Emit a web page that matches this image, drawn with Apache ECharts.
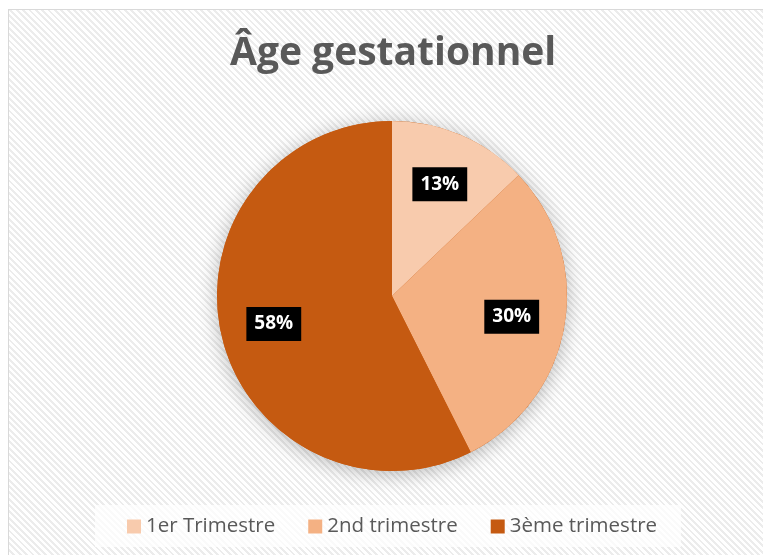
<!DOCTYPE html>
<html>
<head>
<meta charset="utf-8">
<script src="https://cdn.jsdelivr.net/npm/echarts@6/dist/echarts.min.js"></script>
<style>
html,body{margin:0;padding:0;background:#fff;}
#frame{position:absolute;left:8px;top:9px;width:780px;height:570px;border:1px solid #d9d9d9;
background:repeating-linear-gradient(45deg,#ffffff 0px,#ffffff 2.5px,#ececec 2.5px,#ececec 4.5px);}
#chart{position:absolute;left:0;top:0;width:763px;height:555px;}
</style>
</head>
<body>
<div id="frame"></div>
<div id="chart"></div>
<script>
const titleText = 'Âge gestationnel';
const categories = ['1er Trimestre', '2nd trimestre', '3ème trimestre'];
const values = [13, 30, 58];
const colors = ['#F8CBAD', '#F4B183', '#C55A11'];

const chart = echarts.init(document.getElementById('chart'), null, {renderer: 'canvas'});
const data = categories.map((c, i) => ({name: c, value: values[i], itemStyle: {color: colors[i]}}));
const labelData = categories.map((c, i) => ({name: c, value: values[i]}));
const total = values.reduce((a, b) => a + b, 0);

chart.setOption({
  backgroundColor: 'transparent',
  animation: false,
  title: {
    text: titleText,
    left: 225,
    top: 29,
    textStyle: {fontFamily: 'Open Sans', fontWeight: 'bold', fontSize: 39, color: '#595959'}
  },
  legend: {
    bottom: 8,
    left: 95,
    itemWidth: 14,
    itemHeight: 14,
    itemGap: 33,
    icon: 'rect',
    padding: [11, 24, 10, 32],
    backgroundColor: 'rgba(255,255,255,0.75)',
    textStyle: {fontFamily: 'Open Sans', fontSize: 20.5, color: '#595959'},
    data: categories
  },
  series: [
    {
      type: 'pie',
      center: [392, 296],
      radius: [0, 175],
      silent: true,
      legendHoverLink: false,
      label: {show: false},
      labelLine: {show: false},
      itemStyle: {color: '#C55A11', shadowBlur: 20, shadowColor: 'rgba(0,0,0,0.28)', shadowOffsetY: 3},
      data: [{name: '_shadow', value: total}]
    },
    {
      type: 'pie',
      center: [392, 296],
      radius: [0, 175],
      startAngle: 90,
      clockwise: true,
      silent: true,
      label: {show: false},
      labelLine: {show: false},
      data: data
    },
    {
      type: 'pie',
      center: [392, 296],
      radius: [62, 175],
      startAngle: 90,
      clockwise: true,
      silent: true,
      legendHoverLink: false,
      itemStyle: {color: 'rgba(0,0,0,0)'},
      label: {
        show: true,
        position: 'inside',
        formatter: p => p.value + '%',
        backgroundColor: '#000',
        color: '#fff',
        fontFamily: 'Open Sans',
        fontWeight: 'bold',
        fontSize: 19,
        padding: [8, 8, 7, 8]
      },
      labelLine: {show: false},
      data: labelData
    }
  ]
});
</script>
</body>
</html>
